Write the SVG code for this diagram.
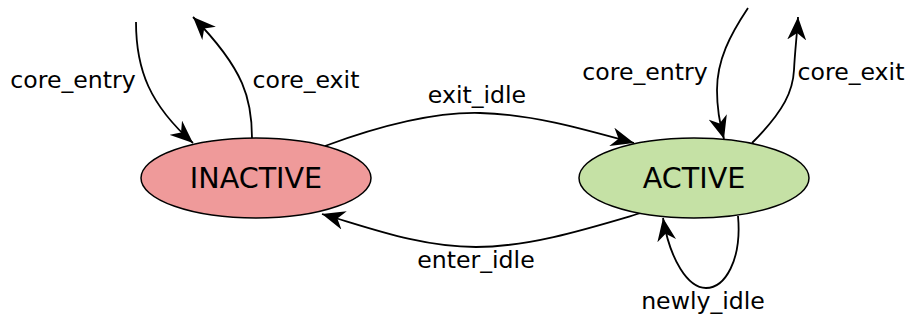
<svg xmlns="http://www.w3.org/2000/svg" width="911" height="320" viewBox="0 0 911 320">
<style>
.node{stroke:#000;stroke-width:1.5}
.lbl{font-family:"DejaVu Sans",sans-serif;font-size:23.6px;fill:#000;text-anchor:middle}
.nlbl{font-family:"DejaVu Sans",sans-serif;font-size:28.6px;fill:#000;text-anchor:middle}
.edge{fill:none;stroke:#000;stroke-width:1.8;marker-end:url(#arr)}
</style>
<defs>
<marker id="arr" markerUnits="userSpaceOnUse" markerWidth="23" markerHeight="19" viewBox="0 0 23 19" refX="23" refY="9.5" orient="auto">
<path d="M0,0 L23,9.5 L0,19 L7,9.5 z" fill="#000"/>
</marker>
</defs>
<rect width="911" height="320" fill="#fff"/>
<g id="connectors">
<path class="edge" d="M136,22 C136,70 150,105 193,143"/>
<path class="edge" d="M252,138 C252,100 245,70 193,17"/>
<path class="edge" d="M325,146 C390,122 440,112 480,113 C530,114 580,128 634,143"/>
<path class="edge" d="M641,213 C590,228 530,247 476,247 C420,247 370,228 322,214"/>
<path class="edge" d="M748,8 C730,35 717,60 717,90 C717,110 720,125 724,139"/>
<path class="edge" d="M752,143 C785,110 793,90 794,70 C795,50 797,35 798,17"/>
<path class="edge" d="M738,216 C742,260 725,288 706,288 C688,288 670,260 663,218"/>
<text class="lbl" x="73" y="88">core_entry</text>
<text class="lbl" x="306" y="88">core_exit</text>
<text class="lbl" x="477" y="103">exit_idle</text>
<text class="lbl" x="476" y="268">enter_idle</text>
<text class="lbl" x="645" y="80">core_entry</text>
<text class="lbl" x="851" y="80">core_exit</text>
<text class="lbl" x="703" y="309">newly_idle</text>
</g>
<g id="inactive">
<ellipse class="node" cx="256" cy="178" rx="115" ry="40" fill="#ef9a9a"/>
<text class="nlbl" x="256" y="188">INACTIVE</text>
</g>
<g id="active">
<ellipse class="node" cx="694" cy="178" rx="115" ry="40" fill="#c5e1a5"/>
<text class="nlbl" x="694" y="188">ACTIVE</text>
</g>
</svg>
